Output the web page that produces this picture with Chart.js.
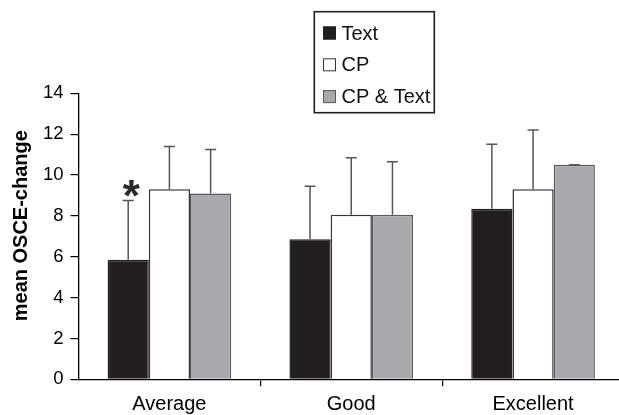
<!DOCTYPE html>
<html><head><meta charset="utf-8">
<script src="https://cdn.jsdelivr.net/npm/chart.js@4"></script>
<style>
html,body{margin:0;padding:0;overflow:hidden;background:#fff;width:619px;height:415px}
#wrap{position:absolute;left:0;top:0;width:624px;height:415px}
</style>
</head><body><div id="wrap"><canvas id="c"></canvas></div>
<script>
const categories = ['Average', 'Good', 'Excellent'];
const seriesNames = ['Text', 'CP', 'CP & Text'];
const textValues = [5.85, 6.85, 8.35];
const cpValues = [9.3, 8.05, 9.3];
const cpTextValues = [9.1, 8.05, 10.5];
const textErr = [2.9, 2.6, 3.15];
const cpErr = [2.1, 2.8, 2.9];
const cpTextErr = [2.15, 2.6, 0];
const yTickValues = [0, 2, 4, 6, 8, 10, 12, 14];
const yTitle = 'mean OSCE-change';
const marks = [{dataset: 0, index: 0, text: '*'}];

const FONT = '"Liberation Sans", Arial, Helvetica, sans-serif';
const fills = ['#231f20', '#ffffff', '#a7a9ac'];
const borders = ['#231f20', '#333333', '#58595b'];
const errs = [textErr, cpErr, cpTextErr];

const extras = {
  id: 'extras',
  afterDatasetsDraw(chart) {
    const ctx = chart.ctx, y = chart.scales.y;
    ctx.save();
    chart.data.datasets.forEach((ds, di) => {
      const meta = chart.getDatasetMeta(di);
      meta.data.forEach((bar, i) => {
        const v = ds.data[i], e = errs[di][i];
        const yb = y.getPixelForValue(v), yt = y.getPixelForValue(v + e);
        ctx.strokeStyle = '#555555';
        ctx.lineWidth = 1.5;
        ctx.beginPath();
        ctx.moveTo(bar.x, yb); ctx.lineTo(bar.x, yt);
        ctx.moveTo(bar.x - 5.5, yt); ctx.lineTo(bar.x + 5.5, yt);
        ctx.stroke();
      });
    });
    marks.forEach(m => {
      const bar = chart.getDatasetMeta(m.dataset).data[m.index];
      const top = y.getPixelForValue(chart.data.datasets[m.dataset].data[m.index] + errs[m.dataset][m.index]);
      ctx.font = 'bold 44px ' + FONT;
      ctx.fillStyle = '#2a2a2a';
      ctx.textAlign = 'center';
      ctx.textBaseline = 'alphabetic';
      const mt = ctx.measureText(m.text);
      const cy = top - 12;
      ctx.fillText(m.text, bar.x + 3, cy + (mt.actualBoundingBoxAscent - mt.actualBoundingBoxDescent) / 2);
    });
    // y-axis title
    ctx.save();
    ctx.translate(21.5, 225.7);
    ctx.rotate(-Math.PI / 2);
    ctx.font = 'bold 20px ' + FONT;
    ctx.fillStyle = '#000';
    ctx.textAlign = 'center';
    ctx.textBaseline = 'middle';
    ctx.fillText(yTitle, 0, 0);
    ctx.restore();
    // legend box
    const bx = 314.3, by = 11.7, bw = 120, bh = 101;
    ctx.strokeStyle = '#231f20';
    ctx.lineWidth = 1.6;
    ctx.strokeRect(bx, by, bw, bh);
    chart.data.datasets.forEach((ds, di) => {
      const cy = 33 + di * 31.8;
      ctx.fillStyle = ds.backgroundColor;
      ctx.fillRect(323, cy - 6.5, 13, 13);
      ctx.strokeStyle = ds.borderColor;
      ctx.lineWidth = 1;
      ctx.strokeRect(323.5, cy - 6, 12, 12);
      ctx.fillStyle = '#111';
      ctx.font = '20px ' + FONT;
      ctx.textAlign = 'left';
      ctx.textBaseline = 'middle';
      ctx.fillText(ds.label, 341.5, cy + 1);
    });
    ctx.restore();
  }
};

new Chart(document.getElementById('c'), {
  type: 'bar',
  data: {
    labels: categories,
    datasets: [
      {label: seriesNames[0], data: textValues},
      {label: seriesNames[1], data: cpValues},
      {label: seriesNames[2], data: cpTextValues}
    ].map((d, i) => Object.assign(d, {
      backgroundColor: fills[i], borderColor: borders[i], borderWidth: 1.5,
      categoryPercentage: 0.68, barPercentage: 1.0
    }))
  },
  options: {
    responsive: true, maintainAspectRatio: false, animation: false, devicePixelRatio: 1,
    layout: {padding: {top: 93.3, left: 0, right: 0, bottom: 0}},
    plugins: {legend: {display: false}, tooltip: {enabled: false}},
    scales: {
      x: {
        offset: true,
        grid: {offset: true, drawOnChartArea: false, tickLength: 7, lineWidth: 1.2,
               color: c => c.index === 0 ? 'rgba(0,0,0,0)' : '#000'},
        border: {color: '#000', width: 1.3},
        ticks: {color: '#000', padding: 6, font: {family: FONT, size: 20}},
        afterFit: s => { s.height = 35.7; }
      },
      y: {
        min: 0, max: 14,
        afterBuildTicks: s => { s.ticks = yTickValues.map(v => ({value: v})); },
        grid: {drawOnChartArea: false, tickLength: 8, color: '#000', lineWidth: 1.2},
        border: {color: '#000', width: 1.3},
        ticks: {color: '#000', padding: 7, font: {family: FONT, size: 18.5}},
        title: {display: false},
        afterFit: s => { s.width = 78.5; }
      }
    }
  },
  plugins: [extras]
});
</script>
</body></html>
